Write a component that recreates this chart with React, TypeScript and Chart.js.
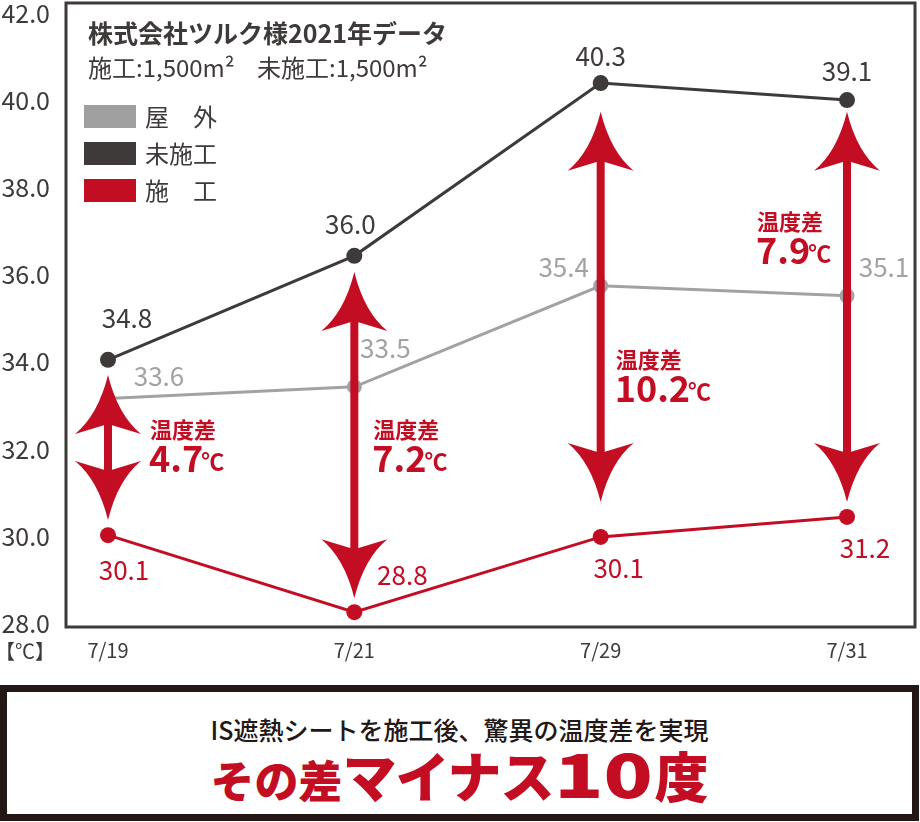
import React, { useEffect, useRef } from "react";
import { Chart, registerables } from "chart.js";

Chart.register(...registerables);

// ---------- data ----------
const categories = ["7/19", "7/21", "7/29", "7/31"];
// plotted positions (as drawn in the picture)
const outdoorValues = [33.16, 33.43, 35.75, 35.52]; // 屋外
const untreatedValues = [34.05, 36.44, 40.41, 40.02]; // 未施工
const treatedValues = [30.02, 28.25, 29.98, 30.44]; // 施工
// printed value labels
const outdoorLabels = ["33.6", "33.5", "35.4", "35.1"];
const untreatedLabels = ["34.8", "36.0", "40.3", "39.1"];
const treatedLabels = ["30.1", "28.8", "30.1", "31.2"];
// temperature differences
const diffValues = ["4.7", "7.2", "10.2", "7.9"];
const arrowTop = [33.7, 36.07, 39.75, 39.75];
const arrowBottom = [30.37, 28.57, 30.78, 30.78];
const diffLabelY = [32.44, 32.44, 34.05, 37.22];
const yTicks = [28, 30, 32, 34, 36, 38, 40, 42];

// ---------- layout / style ----------
const FONT = "'Noto Sans CJK JP', 'Noto Sans', sans-serif";
const DARK = "#3e3a39";
const GRAY = "#a2a2a2";
const RED = "#c30d23";
const untreatedLabelOffset = [[19, -42], [-4, -32], [0, -27], [0, -29]];
const outdoorLabelOffset = [[51, -22], [31, -39], [-37, -19], [37, -29]];
const treatedLabelOffset = [[16, 35], [48, -37], [18, 31], [18, 31]];
const diffLabelDx = [42, 19, 15, -90];

function drawHead(ctx: CanvasRenderingContext2D, px: number, tip: number, dir: number) {
  const L = 59, N = 49, W = 33;
  ctx.beginPath();
  ctx.moveTo(px, tip);
  ctx.quadraticCurveTo(px - W * 0.3, tip + dir * L * 0.68, px - W, tip + dir * L);
  ctx.lineTo(px, tip + dir * N);
  ctx.lineTo(px + W, tip + dir * L);
  ctx.quadraticCurveTo(px + W * 0.3, tip + dir * L * 0.68, px, tip);
  ctx.closePath();
  ctx.fill();
}

function drawDoubleArrow(ctx: CanvasRenderingContext2D, px: number, yt: number, yb: number) {
  ctx.fillStyle = RED;
  ctx.fillRect(px - 4, yt + 45, 8, yb - yt - 90);
  drawHead(ctx, px, yt, 1);
  drawHead(ctx, px, yb, -1);
}

const framePlugin = {
  id: "frame",
  beforeDatasetsDraw(chart: any) {
    const { ctx, chartArea } = chart;
    ctx.save();
    ctx.strokeStyle = DARK;
    ctx.lineWidth = 3;
    ctx.strokeRect(chartArea.left, chartArea.top, chartArea.right - chartArea.left, chartArea.bottom - chartArea.top);
    ctx.restore();
  },
};

const annotatePlugin = {
  id: "annotate",
  afterDatasetsDraw(chart: any) {
    const { ctx, scales } = chart;
    const x = scales.x;
    const y = scales.y;
    ctx.save();
    // arrows
    categories.forEach((_, i) => {
      drawDoubleArrow(ctx, x.getPixelForValue(i), y.getPixelForValue(arrowTop[i]), y.getPixelForValue(arrowBottom[i]));
    });
    // value labels
    ctx.textAlign = "center";
    ctx.textBaseline = "middle";
    ctx.font = `26px ${FONT}`;
    const series: [number[], string[], number[][], string][] = [
      [untreatedValues, untreatedLabels, untreatedLabelOffset, DARK],
      [outdoorValues, outdoorLabels, outdoorLabelOffset, GRAY],
      [treatedValues, treatedLabels, treatedLabelOffset, RED],
    ];
    series.forEach(([vals, labels, offs, color]) => {
      ctx.fillStyle = color;
      vals.forEach((v, i) => {
        ctx.fillText(labels[i], x.getPixelForValue(i) + offs[i][0], y.getPixelForValue(v) + offs[i][1]);
      });
    });
    // difference labels
    ctx.textAlign = "left";
    ctx.fillStyle = RED;
    diffValues.forEach((d, i) => {
      const lx = x.getPixelForValue(i) + diffLabelDx[i];
      const ly = y.getPixelForValue(diffLabelY[i]);
      ctx.font = `bold 22px ${FONT}`;
      ctx.textBaseline = "middle";
      ctx.fillText("温度差", lx, ly);
      ctx.font = `bold 36px ${FONT}`;
      ctx.textBaseline = "alphabetic";
      const base = ly + 42;
      ctx.fillText(d, lx - 1, base);
      const w = ctx.measureText(d).width;
      ctx.font = `bold 23px ${FONT}`;
      ctx.fillText("℃", lx + w - 3, base - 2);
    });
    // title block
    ctx.fillStyle = DARK;
    ctx.textBaseline = "middle";
    ctx.font = `bold 25px ${FONT}`;
    ctx.fillText("株式会社ツルク様2021年データ", 88, 33);
    ctx.font = `24px ${FONT}`;
    ctx.fillText("施工:1,500m²", 88, 68);
    ctx.fillText("未施工:1,500m²", 257, 68);
    // legend
    const legendItems: [string, string][] = [
      ["屋　外", "#9f9f9f"],
      ["未施工", DARK],
      ["施　工", RED],
    ];
    ctx.font = `24px ${FONT}`;
    legendItems.forEach(([label, color], i) => {
      const top = 105 + i * 37;
      ctx.fillStyle = color;
      ctx.fillRect(84, top, 52, 23);
      ctx.fillStyle = DARK;
      ctx.fillText(label, 145, top + 12);
    });
    // unit label
    ctx.font = `20px ${FONT}`;
    ctx.textAlign = "center";
    ctx.fillText("【℃】", 25, 651);
    ctx.restore();
  },
};

export default function App() {
  const canvasRef = useRef<HTMLCanvasElement>(null);

  useEffect(() => {
    if (!canvasRef.current) return;
    const mk = (vals: number[]) => vals.map((v, i) => ({ x: i, y: v }));
    const chart = new Chart(canvasRef.current, {
      type: "line",
      data: {
        datasets: [
          {
            label: "施工",
            data: mk(treatedValues),
            borderColor: RED,
            backgroundColor: RED,
            borderWidth: 3,
            pointRadius: 8,
            pointBorderWidth: 0,
            pointBackgroundColor: RED,
          },
          {
            label: "未施工",
            data: mk(untreatedValues),
            borderColor: DARK,
            backgroundColor: DARK,
            borderWidth: 3,
            pointRadius: 8,
            pointBorderWidth: 0,
            pointBackgroundColor: DARK,
          },
          {
            label: "屋外",
            data: mk(outdoorValues),
            borderColor: GRAY,
            backgroundColor: GRAY,
            borderWidth: 3,
            pointRadius: 7.5,
            pointBorderWidth: 0,
            pointBackgroundColor: GRAY,
          },
        ],
      },
      options: {
        animation: false,
        responsive: false,
        layout: { autoPadding: false, padding: { top: 3, right: 5, left: 0, bottom: 0 } },
        plugins: { legend: { display: false }, tooltip: { enabled: false } },
        scales: {
          x: {
            type: "linear",
            min: -0.1705,
            max: 3.276,
            grid: { display: false, drawTicks: false },
            border: { display: false },
            afterBuildTicks: (s: any) => {
              s.ticks = categories.map((_, i) => ({ value: i }));
            },
            afterFit: (s: any) => {
              s.height = 53;
              s.paddingLeft = 0;
              s.paddingRight = 0;
            },
            ticks: {
              padding: 11,
              color: DARK,
              font: { family: FONT, size: 20 },
              maxRotation: 0,
              callback: (v: any) => categories[Math.round(Number(v))] ?? "",
            },
          },
          y: {
            type: "linear",
            min: 27.91,
            max: 42.25,
            grid: { display: false, drawTicks: false },
            border: { display: false },
            afterBuildTicks: (s: any) => {
              s.ticks = yTicks.map((v) => ({ value: v }));
            },
            afterFit: (s: any) => {
              s.width = 66;
              s.paddingTop = 0;
              s.paddingBottom = 0;
            },
            ticks: {
              padding: 16,
              color: DARK,
              font: { family: FONT, size: 25 },
              callback: (v: any) => Number(v).toFixed(1),
            },
          },
        },
      } as any,
      plugins: [framePlugin, annotatePlugin],
    });
    return () => chart.destroy();
  }, []);

  return (
    <div style={{ position: "absolute", left: 0, top: 0, width: 920, height: 822, background: "#fff", fontFamily: FONT }}>
      <canvas ref={canvasRef} width={920} height={680} style={{ position: "absolute", left: 0, top: 0, width: 920, height: 680 }} />
      <div
        style={{
          position: "absolute",
          left: 0,
          top: 685,
          width: 919,
          height: 136,
          boxSizing: "border-box",
          border: "7px solid #231815",
          background: "#fff",
        }}
      >
        <div
          style={{
            position: "absolute",
            left: 0,
            right: 0,
            top: 22,
            lineHeight: "30px",
            fontSize: 25,
            fontWeight: 500,
            color: "#231815",
            textAlign: "center",
            whiteSpace: "nowrap",
          }}
        >
          IS遮熱シートを施工後、驚異の温度差を実現
        </div>
        <div
          style={{
            position: "absolute",
            left: 0,
            right: 0,
            top: 50,
            height: 60,
            lineHeight: "60px",
            textAlign: "center",
            color: RED,
            fontWeight: 900,
            whiteSpace: "nowrap",
          }}
        >
          <span style={{ fontSize: 44 }}>その差</span>
          <span style={{ fontSize: 54, letterSpacing: -1 }}>マイナス</span>
          <span style={{ display: "inline-block", fontSize: 60, transform: "scaleX(1.35)", margin: "0 14px" }}>10</span>
          <span style={{ fontSize: 54 }}>度</span>
        </div>
      </div>
    </div>
  );
}
